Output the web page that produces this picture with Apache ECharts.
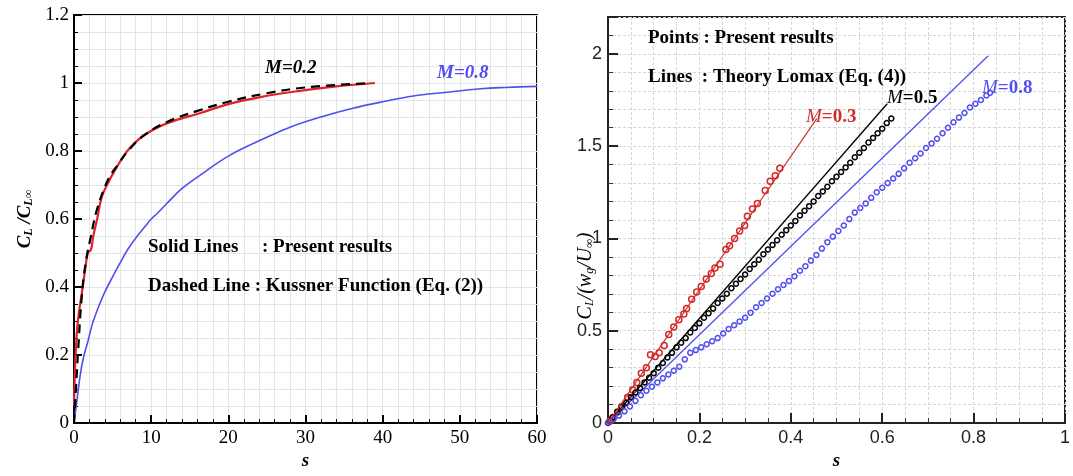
<!DOCTYPE html>
<html>
<head>
<meta charset="utf-8">
<script src="https://cdn.jsdelivr.net/npm/echarts@6/dist/echarts.min.js"></script>
<style>
  html, body { margin: 0; padding: 0; background: #ffffff; }
  #chart { width: 1073px; height: 476px; }
</style>
</head>
<body>
<div id="chart"></div>
<script>
// ---------- Left panel: normalised lift response C_L / C_L∞ versus s ----------
const presentS_M02 = [0, 0.2, 0.5, 1, 1.5, 1.8, 2.2, 2.5, 3, 3.6, 4.5, 5.3, 6.9, 9, 12.1, 16.4, 20, 24, 29, 34, 39];
const presentV_M02 = [0.05, 0.2, 0.3, 0.38, 0.46, 0.5, 0.51, 0.55, 0.6, 0.665, 0.71, 0.743, 0.8, 0.845, 0.882, 0.912, 0.938, 0.958, 0.976, 0.99, 1.0];

const kussnerS = [0, 0.25, 0.5, 1, 1.5, 2.2, 3, 4.5, 5.7, 7, 9, 12, 16, 20, 25, 30, 38.5];
const kussnerV = [0, 0.1, 0.2, 0.37, 0.47, 0.55, 0.63, 0.72, 0.76, 0.8, 0.845, 0.885, 0.918, 0.945, 0.97, 0.987, 1.0];

const presentS_M08 = [0, 0.4, 0.8, 1.2, 1.8, 2.5, 3.8, 5, 6, 7, 8.2, 9.2, 10, 10.8, 12, 14, 16.4, 20, 24, 28, 32, 36, 40, 44, 48, 52.7, 56, 60];
const presentV_M08 = [0, 0.07, 0.14, 0.19, 0.24, 0.3, 0.376, 0.43, 0.472, 0.512, 0.55, 0.578, 0.6, 0.617, 0.645, 0.69, 0.73, 0.785, 0.83, 0.87, 0.9, 0.925, 0.945, 0.962, 0.972, 0.983, 0.987, 0.99];

// ---------- Right panel: C_L / (w_g / U∞) versus s ----------
// Theory (Lomax) straight lines
const lomaxS_M03 = [0, 0.457];
const lomaxV_M03 = [0, 1.65];
const lomaxS_M05 = [0, 0.611];
const lomaxV_M05 = [0, 1.73];
const lomaxS_M08 = [0, 0.832];
const lomaxV_M08 = [0, 1.99];

// Present results (points)
const pointsS_M03 = [0.004, 0.011, 0.021, 0.03, 0.043, 0.054, 0.063, 0.073, 0.084, 0.093, 0.103, 0.112, 0.123, 0.133, 0.144, 0.155, 0.166, 0.172, 0.183, 0.194, 0.204, 0.215, 0.226, 0.234, 0.245, 0.258, 0.266, 0.277, 0.288, 0.299, 0.305, 0.316, 0.327, 0.344, 0.355, 0.366, 0.376];
const pointsV_M03 = [0.01, 0.03, 0.06, 0.09, 0.14, 0.18, 0.22, 0.27, 0.3, 0.37, 0.36, 0.38, 0.42, 0.48, 0.52, 0.56, 0.59, 0.62, 0.67, 0.71, 0.74, 0.78, 0.81, 0.84, 0.86, 0.94, 0.96, 1.0, 1.04, 1.07, 1.12, 1.16, 1.19, 1.26, 1.31, 1.34, 1.38];

const pointsS_M05 = [0, 0.01, 0.02, 0.03, 0.04, 0.05, 0.06, 0.07, 0.08, 0.09, 0.1, 0.11, 0.12, 0.13, 0.14, 0.15, 0.16, 0.17, 0.18, 0.19, 0.2, 0.21, 0.22, 0.23, 0.24, 0.25, 0.26, 0.27, 0.28, 0.29, 0.3, 0.31, 0.32, 0.33, 0.34, 0.35, 0.36, 0.37, 0.38, 0.39, 0.4, 0.41, 0.42, 0.43, 0.44, 0.45, 0.46, 0.47, 0.48, 0.49, 0.5, 0.51, 0.52, 0.53, 0.54, 0.55, 0.56, 0.57, 0.58, 0.59, 0.6, 0.61, 0.62];
const pointsV_M05 = [0, 0.03, 0.06, 0.085, 0.11, 0.14, 0.165, 0.19, 0.22, 0.245, 0.27, 0.3, 0.325, 0.355, 0.38, 0.41, 0.435, 0.46, 0.49, 0.515, 0.54, 0.57, 0.595, 0.62, 0.65, 0.675, 0.7, 0.73, 0.755, 0.78, 0.805, 0.835, 0.86, 0.885, 0.915, 0.94, 0.965, 0.99, 1.02, 1.045, 1.07, 1.095, 1.125, 1.15, 1.175, 1.2, 1.23, 1.255, 1.28, 1.31, 1.335, 1.36, 1.385, 1.41, 1.44, 1.465, 1.49, 1.52, 1.545, 1.57, 1.595, 1.625, 1.65];

const pointsS_M08 = [0, 0.012, 0.024, 0.036, 0.048, 0.06, 0.072, 0.084, 0.096, 0.108, 0.12, 0.132, 0.144, 0.156, 0.168, 0.18, 0.192, 0.204, 0.216, 0.228, 0.24, 0.252, 0.264, 0.276, 0.288, 0.3, 0.312, 0.324, 0.336, 0.348, 0.36, 0.372, 0.384, 0.396, 0.408, 0.42, 0.432, 0.444, 0.456, 0.468, 0.48, 0.492, 0.504, 0.516, 0.528, 0.54, 0.552, 0.564, 0.576, 0.588, 0.6, 0.612, 0.624, 0.636, 0.648, 0.66, 0.672, 0.684, 0.696, 0.708, 0.72, 0.732, 0.744, 0.756, 0.768, 0.78, 0.792, 0.804, 0.816, 0.828, 0.836];
const pointsV_M08 = [0, 0.02, 0.04, 0.063, 0.09, 0.12, 0.15, 0.175, 0.197, 0.22, 0.242, 0.263, 0.283, 0.305, 0.345, 0.38, 0.395, 0.41, 0.427, 0.443, 0.46, 0.485, 0.51, 0.53, 0.55, 0.57, 0.598, 0.627, 0.65, 0.675, 0.7, 0.725, 0.748, 0.77, 0.795, 0.825, 0.85, 0.88, 0.91, 0.945, 0.98, 1.01, 1.04, 1.07, 1.105, 1.14, 1.165, 1.19, 1.22, 1.25, 1.275, 1.3, 1.325, 1.35, 1.38, 1.41, 1.435, 1.46, 1.49, 1.515, 1.54, 1.57, 1.6, 1.63, 1.655, 1.68, 1.71, 1.73, 1.75, 1.775, 1.79];

function zip(xs, ys) { return xs.map((x, i) => [x, ys[i]]); }

const SERIF = '"Liberation Serif", "Times New Roman", serif';
const SANS = '"Liberation Sans", Arial, sans-serif';
const RED = '#e0212b';
const BLUE = '#4f4ff0';
const DARK_RED = '#d42a2a';

function serifAxis(opts) {
  return Object.assign({
    type: 'value',
    axisLine: { show: true, onZero: false, lineStyle: { color: '#000', width: 2 } },
    axisTick: { show: true, inside: true, length: 8, lineStyle: { color: '#000', width: 2 } },
    minorTick: { show: true, length: 4, lineStyle: { color: '#000', width: 1 } },
    splitLine: { show: true, lineStyle: { color: '#e4e4e4', width: 1 } },
    minorSplitLine: { show: true, lineStyle: { color: '#e4e4e4', width: 1 } },
    axisLabel: { color: '#000', fontFamily: SERIF, fontSize: 19, margin: 5 }
  }, opts);
}

function sansAxis(opts) {
  return Object.assign({
    type: 'value',
    axisLine: { show: true, onZero: false, lineStyle: { color: '#222', width: 2 } },
    axisTick: { show: true, inside: true, length: 10, lineStyle: { color: '#222', width: 2 } },
    minorTick: { show: true, length: 5, lineStyle: { color: '#333', width: 1 } },
    splitLine: { show: true, lineStyle: { color: '#d6d6d6', width: 1, type: [3, 2] } },
    minorSplitLine: { show: true, lineStyle: { color: '#d6d6d6', width: 1, type: [3, 2] } },
    axisLabel: { color: '#222', fontFamily: SANS, fontSize: 18, margin: 6 }
  }, opts);
}

function label(x, y, text, font, fill) {
  return { type: 'text', x: x, y: y, z: 100, style: { text: text, font: font, fill: fill, verticalAlign: 'middle' } };
}

function machLabel(x, y, text, fill) {
  return {
    type: 'text', x: x, y: y, z: 100,
    style: {
      text: '{i|M}{b|' + text + '}', verticalAlign: 'middle',
      rich: {
        i: { fontFamily: SERIF, fontSize: 19, fontStyle: 'italic', fill: fill },
        b: { fontFamily: SERIF, fontSize: 19, fontWeight: 'bold', fill: fill }
      }
    }
  };
}

function pointSeries(name, xs, ys, color, size) {
  return {
    name: name, type: 'scatter', xAxisIndex: 1, yAxisIndex: 1,
    data: zip(xs, ys), symbol: 'circle', symbolSize: size,
    itemStyle: { color: 'rgba(255,255,255,0)', borderColor: color, borderWidth: 1.5, opacity: 1 }, z: 4
  };
}

const chart = echarts.init(document.getElementById('chart'), null, { renderer: 'canvas' });

const option = {
  backgroundColor: '#ffffff',
  animation: false,
  grid: [
    { left: 74, top: 15, width: 463, height: 415, show: true, borderColor: '#000', borderWidth: 2, backgroundColor: 'transparent' },
    { left: 608, top: 17, width: 464, height: 419, show: true, borderColor: '#222', borderWidth: 2, backgroundColor: 'transparent' }
  ],
  xAxis: [
    serifAxis({
      gridIndex: 0, min: 0, max: 60, interval: 10,
      minorTick: { show: true, splitNumber: 5, length: 4, lineStyle: { color: '#000', width: 1 } },
      name: 's', nameLocation: 'middle', nameGap: 26,
      nameTextStyle: { fontFamily: SERIF, fontSize: 19, fontWeight: 'bold', fontStyle: 'italic', color: '#000' }
    }),
    sansAxis({
      gridIndex: 1, min: 0, max: 1, interval: 0.2,
      minorTick: { show: true, splitNumber: 4, length: 5, lineStyle: { color: '#333', width: 1 } },
      name: 's', nameLocation: 'middle', nameGap: 29,
      nameTextStyle: { fontFamily: SERIF, fontSize: 19, fontWeight: 'bold', fontStyle: 'italic', color: '#000' }
    })
  ],
  yAxis: [
    serifAxis({
      gridIndex: 0, min: 0, max: 1.2, interval: 0.2,
      minorTick: { show: true, splitNumber: 4, length: 4, lineStyle: { color: '#000', width: 1 } },
      name: '{c|C}{s|L}{c| /C}{s|L∞}', nameLocation: 'middle', nameGap: 39, nameRotate: 90,
      nameTextStyle: {
        rich: {
          c: { fontFamily: SERIF, fontSize: 19, fontWeight: 'bold', fontStyle: 'italic', color: '#000', lineHeight: 22, verticalAlign: 'bottom' },
          s: { fontFamily: SERIF, fontSize: 12, fontWeight: 'bold', fontStyle: 'italic', color: '#000', lineHeight: 12, verticalAlign: 'bottom' }
        }
      }
    }),
    sansAxis({
      gridIndex: 1, min: 0, max: 2.2, interval: 0.5,
      minorTick: { show: true, splitNumber: 5, length: 5, lineStyle: { color: '#333', width: 1 } },
      axisLabel: { color: '#222', fontFamily: SANS, fontSize: 18, margin: 6, showMaxLabel: false }
    })
  ],
  graphic: [
    {
      type: 'text', x: 585, y: 276, rotation: Math.PI / 2, z: 100,
      style: {
        text: '{c|C}{s|L}{c|/(w}{s|g}{c|/U}{s|∞}{c|)}',
        align: 'center', verticalAlign: 'middle',
        rich: {
          c: { fontFamily: SERIF, fontSize: 20, fontStyle: 'italic', fill: '#000', lineHeight: 22, verticalAlign: 'bottom' },
          s: { fontFamily: SERIF, fontSize: 12, fontStyle: 'italic', fill: '#000', lineHeight: 12, verticalAlign: 'bottom' }
        }
      }
    },
    label(148, 247, 'Solid Lines     : Present results', 'bold 19px ' + SERIF, '#000'),
    label(148, 286, 'Dashed Line : Kussner Function (Eq. (2))', 'bold 19px ' + SERIF, '#000'),
    label(265, 68, 'M=0.2', 'italic bold 19px ' + SERIF, '#000'),
    label(437, 73, 'M=0.8', 'italic bold 19px ' + SERIF, BLUE),
    label(648, 38, 'Points : Present results', 'bold 19px ' + SERIF, '#000'),
    label(648, 77, 'Lines  : Theory Lomax (Eq. (4))', 'bold 19px ' + SERIF, '#000'),
    machLabel(806, 117, '=0.3', DARK_RED),
    machLabel(887, 98, '=0.5', '#000'),
    machLabel(982, 88, '=0.8', BLUE)
  ],
  series: [
    // left panel
    {
      name: 'M=0.8 present', type: 'line', xAxisIndex: 0, yAxisIndex: 0,
      data: zip(presentS_M08, presentV_M08), smooth: 0.4, showSymbol: false,
      lineStyle: { color: BLUE, width: 1.6 }, z: 3
    },
    {
      name: 'M=0.2 present', type: 'line', xAxisIndex: 0, yAxisIndex: 0,
      data: zip(presentS_M02, presentV_M02), smooth: 0.4, showSymbol: false,
      lineStyle: { color: RED, width: 2.2 }, z: 3
    },
    {
      name: 'Kussner', type: 'line', xAxisIndex: 0, yAxisIndex: 0,
      data: zip(kussnerS, kussnerV), smooth: 0.4, showSymbol: false,
      lineStyle: { color: '#000', width: 2.2, type: [9, 6] }, z: 4
    },
    // right panel: theory lines
    {
      name: 'Lomax M=0.3', type: 'line', xAxisIndex: 1, yAxisIndex: 1,
      data: zip(lomaxS_M03, lomaxV_M03), showSymbol: false,
      lineStyle: { color: DARK_RED, width: 1.3 }, z: 5
    },
    {
      name: 'Lomax M=0.5', type: 'line', xAxisIndex: 1, yAxisIndex: 1,
      data: zip(lomaxS_M05, lomaxV_M05), showSymbol: false,
      lineStyle: { color: '#000', width: 1.3 }, z: 3
    },
    {
      name: 'Lomax M=0.8', type: 'line', xAxisIndex: 1, yAxisIndex: 1,
      data: zip(lomaxS_M08, lomaxV_M08), showSymbol: false,
      lineStyle: { color: BLUE, width: 1.3 }, z: 3
    },
    // right panel: present results
    pointSeries('Present M=0.3', pointsS_M03, pointsV_M03, DARK_RED, 6),
    pointSeries('Present M=0.5', pointsS_M05, pointsV_M05, '#000', 5),
    pointSeries('Present M=0.8', pointsS_M08, pointsV_M08, BLUE, 5)
  ]
};

chart.setOption(option);
</script>
</body>
</html>
